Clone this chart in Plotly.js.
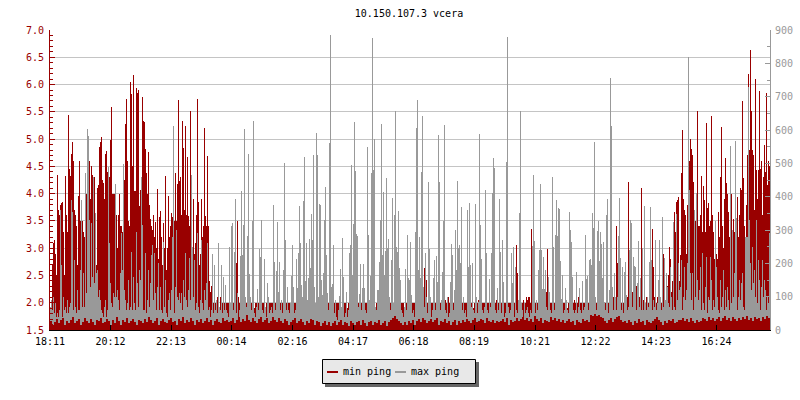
<!DOCTYPE html>
<html><head><meta charset="utf-8">
<script src="https://cdn.plot.ly/plotly-3.0.1.min.js"></script>
<style>html,body{margin:0;padding:0;background:#fff}#c{width:800px;height:400px}</style>
</head><body><div id="c"></div>
<script>
const tickMinutes=[0,121,242,363,485,606,727,848,970,1091,1212,1333];
const tickLabels=["18:11","20:12","22:13","00:14","02:16","04:17","06:18","08:19","10:21","12:22","14:23","16:24"];
const minPing=[
1.9,2.0,2.7,3.1,3.15,2.9,2.5,4.35,3.7,3.6,
3.8,3.82,3.85,3.3,2.5,4.32,3.6,3.3,5.44,4.45,
4.32,4.73,4.95,4.6,3.7,3.6,3.4,2.7,3.95,4.6,
3.5,3.4,3.5,3.3,3.2,3.95,4.0,3.6,3.5,4.59,
3.9,4.5,4.35,4.3,4.3,3.5,2.7,4.1,4.15,4.85,
4.95,5.03,4.25,4.2,3.9,4.73,4.79,4.4,3.9,4.3,
4.98,5.58,4.0,4.0,4.0,3.6,3.6,3.0,3.6,4.0,
3.4,3.4,3.3,3.6,4.25,5.28,5.73,4.6,3.5,3.4,
6.05,5.83,4.5,6.18,4.05,4.05,5.93,5.84,5.9,3.77,
4.07,4.05,5.78,5.34,5.32,4.81,4.38,4.0,4.77,3.79,
3.53,3.4,3.33,3.6,3.2,3.48,3.0,4.08,2.8,3.58,
3.69,3.2,2.7,3.46,3.0,4.33,2.6,3.0,3.95,3.2,
3.4,3.64,3.58,3.4,3.5,4.37,3.5,4.18,5.72,4.24,
4.3,3.6,5.33,4.83,3.7,5.24,3.6,4.68,3.59,3.4,
5.52,3.4,3.0,3.9,2.9,3.1,3.6,5.74,3.85,2.7,
2.9,3.9,3.2,3.4,5.2,3.59,3.4,4.69,3.4,2.4,
2.2,2.3,2.0,2.0,2.0,2.0,2.0,2.1,2.0,1.9,
2.1,2.0,2.0,2.0,2.0,1.9,2.0,2.0,2.0,2.0,
2.0,2.0,2.0,2.0,2.0,2.0,2.72,3.49,2.1,2.0,
2.0,2.0,1.9,2.0,2.0,2.0,2.0,1.9,2.0,2.0,
2.0,2.0,2.0,2.0,1.9,2.0,2.0,2.0,2.0,2.0,
1.9,2.0,2.0,2.0,2.0,1.9,2.0,2.0,2.0,2.0,
2.0,2.0,2.0,2.0,1.9,2.0,2.0,2.0,2.0,2.0,
2.0,2.0,2.0,2.0,2.0,1.9,2.0,2.0,2.0,2.0,
2.0,2.0,2.0,1.9,2.0,2.0,2.0,2.0,2.0,1.9,
2.0,2.0,2.0,2.0,2.0,1.9,2.0,2.0,2.0,2.0,
2.0,1.9,2.0,2.0,2.0,2.0,2.0,2.0,1.9,2.0,
2.0,2.0,2.0,2.0,2.0,2.0,1.9,2.0,2.0,2.0,
2.0,2.0,2.0,2.0,2.0,1.9,2.0,2.0,2.0,2.0,
2.0,1.9,2.0,2.0,2.0,2.0,2.0,1.9,2.0,2.0,
2.0,2.0,2.0,2.0,1.9,2.0,2.0,2.0,2.0,2.0,
1.9,2.0,2.0,2.0,2.0,2.0,2.0,2.0,1.9,2.0,
2.0,2.0,2.0,2.0,2.0,1.9,2.0,2.0,2.0,2.0,
2.0,2.0,1.9,2.0,2.0,2.0,2.0,2.0,2.0,2.0,
2.0,2.0,2.0,1.9,2.0,2.0,2.0,2.0,2.0,2.0,
2.0,2.0,2.0,2.0,1.9,2.0,2.0,2.0,2.0,2.0,
2.0,2.0,2.0,2.0,2.0,1.9,2.0,2.0,2.0,2.0,
2.0,2.0,2.0,2.29,2.63,2.0,2.42,2.0,2.05,2.1,
2.1,2.0,2.0,2.0,1.9,2.0,2.0,2.0,2.0,2.0,
2.0,2.0,2.0,2.0,2.0,2.05,2.0,2.1,2.1,2.0,
2.0,2.0,1.9,2.0,2.0,2.0,2.0,2.0,2.0,2.0,
2.0,2.0,2.0,2.0,2.0,2.0,2.0,1.9,2.0,2.0,
2.0,2.0,2.0,1.9,2.0,2.0,2.0,2.0,2.05,2.0,
2.0,2.0,2.0,2.0,2.0,2.05,2.1,2.0,2.0,1.9,
2.0,2.0,2.0,2.0,2.0,2.0,2.05,2.0,2.0,2.0,
2.0,2.0,1.9,2.0,2.0,2.0,2.0,2.0,2.0,2.0,
2.0,2.0,2.0,2.05,2.0,2.0,3.06,2.55,2.0,2.0,
2.0,2.0,2.0,2.05,2.0,2.0,2.1,2.05,2.1,2.1,
2.0,3.35,3.03,2.0,2.0,2.0,2.0,2.0,2.0,2.0,
2.1,2.05,2.1,2.0,2.1,2.05,2.2,2.98,2.48,2.2,
2.0,2.0,1.9,2.0,2.0,2.0,2.0,2.0,2.0,2.05,
2.1,2.05,2.0,2.0,2.0,2.0,2.0,1.9,2.0,2.0,
2.0,2.0,2.0,2.0,2.05,2.0,2.1,2.0,2.1,2.0,
2.0,2.0,2.0,2.0,2.0,2.0,2.0,2.0,2.0,2.1,
2.0,2.0,2.1,2.1,2.2,2.0,2.0,2.0,2.0,2.1,
2.0,2.1,2.0,2.0,2.0,2.0,2.1,2.0,2.0,2.0,
2.0,2.0,2.1,2.1,2.0,2.0,3.41,2.72,2.0,2.0,
2.0,2.0,2.1,2.0,2.0,2.0,2.0,2.1,4.21,2.97,
2.0,2.0,2.2,2.0,2.1,2.0,2.3,2.0,2.0,2.1,
2.1,4.1,2.97,2.05,2.0,2.0,2.1,2.0,2.0,2.1,
2.0,2.1,3.35,2.65,2.1,2.0,2.0,2.1,2.2,2.1,
2.1,2.0,2.1,2.9,2.2,2.0,2.1,2.3,2.5,3.03,
2.8,2.2,2.4,2.6,3.67,3.3,3.85,3.88,3.93,2.4,
2.87,4.37,5.17,3.9,3.7,3.6,2.9,3.8,3.5,4.59,
5.01,4.81,4.7,4.22,3.4,3.5,3.94,5.52,3.4,3.4,
3.6,4.32,3.3,4.14,3.88,3.3,5.29,3.73,3.82,3.4,
3.5,5.42,3.6,3.3,2.8,3.0,2.9,2.8,3.66,3.2,
4.3,5.22,3.4,3.0,3.9,4.65,4.2,4.0,3.67,3.2,
3.1,4.0,3.0,3.53,3.3,2.9,3.4,3.94,3.2,3.6,
4.1,4.07,5.7,4.28,3.4,3.2,3.8,4.7,6.2,4.8,
6.63,5.52,4.8,4.7,3.7,6.1,4.43,3.9,4.43,5.89,
4.46,4.6,3.6,4.31,4.9,4.4,5.85,4.16,4.6,4.5
];
const maxPing=[
70,90,60,100,50,80,40,50,40,60,
360,195,40,100,60,70,50,90,50,70,
80,390,355,60,210,70,50,120,60,60,
180,390,70,170,70,470,110,604,582,330,
130,320,160,460,140,350,170,180,100,120,
90,60,50,40,70,90,40,60,488,260,
140,80,70,110,100,438,100,120,90,60,
170,290,180,498,120,90,60,80,150,60,
70,235,60,160,80,60,295,140,70,180,
150,460,315,60,60,230,50,90,180,70,
140,225,255,90,230,110,60,130,200,60,
130,60,50,265,70,150,50,40,90,110,
60,120,280,612,50,130,300,100,90,110,
80,110,60,150,100,230,90,70,120,215,
90,465,250,100,210,60,80,290,70,50,
90,270,80,60,120,90,140,260,60,70,
40,60,228,50,195,60,90,50,260,70,
60,195,50,160,60,135,60,50,40,248,
80,312,320,60,235,393,50,110,40,60,
222,417,225,315,603,100,70,282,528,168,
100,60,327,628,50,40,70,122,60,243,
220,330,60,50,213,70,40,140,100,50,
60,70,50,375,204,60,176,324,115,205,
60,90,50,180,500,270,60,130,60,50,
80,162,255,130,50,60,213,125,230,372,
260,135,100,387,520,148,260,90,155,272,
185,348,270,525,130,80,592,525,100,378,
375,150,105,170,330,430,225,110,60,560,
885,130,137,255,50,90,40,30,60,102,
182,70,276,160,40,50,115,40,60,232,
255,495,165,318,624,478,288,282,70,108,
198,60,125,198,125,60,50,548,285,90,
162,470,876,480,572,70,60,120,120,205,
330,618,225,413,165,238,455,245,272,100,
60,210,395,80,345,657,250,235,357,185,
150,60,50,40,70,183,60,285,155,150,
264,105,50,60,40,295,605,690,180,278,
155,473,642,130,70,230,100,50,443,243,
100,40,60,155,210,60,222,145,585,443,
60,90,173,327,615,60,50,100,40,50,
144,258,224,60,120,300,180,447,245,255,
200,368,60,100,50,60,40,360,188,380,
195,70,200,60,50,378,100,50,85,588,
315,213,60,50,70,420,232,60,50,153,
70,230,410,516,486,60,50,125,60,393,
235,50,270,145,40,50,505,880,70,50,
60,230,140,250,40,190,60,50,90,350,
657,80,60,40,80,50,60,70,50,40,
60,50,252,465,268,50,90,60,180,240,
438,240,122,218,122,180,70,60,160,115,
60,50,459,250,60,285,390,282,367,362,
208,94,165,50,60,127,90,60,50,354,
300,265,160,60,50,60,174,50,70,125,
60,50,148,60,70,285,154,162,60,210,
212,195,352,305,563,100,60,297,327,207,
295,258,157,264,85,60,345,393,50,120,
756,612,130,60,170,100,60,100,282,395,
216,60,188,50,175,203,105,60,70,240,
330,320,70,220,192,188,60,142,268,70,
155,60,245,60,372,80,60,100,70,205,
370,210,60,90,70,270,60,80,150,270,
100,60,340,70,215,90,172,130,80,70,
190,100,60,325,70,60,348,90,200,120,
130,210,60,100,190,90,120,200,820,420,
170,90,170,60,360,100,410,150,90,120,
190,60,230,80,60,130,220,50,100,90,
220,150,60,90,70,327,190,100,60,50,
150,70,100,180,60,120,70,130,90,60,
552,80,300,100,170,567,335,60,100,150,
90,140,170,70,60,280,280,280,730,330,
200,120,250,140,180,100,330,80,210,150,
60,130,210,100,150,120,60,100,80,290
];
const minPingFloor=[
1.66,1.6,1.64,1.7,1.62,1.68,1.72,1.6,1.66,1.62,1.68,1.74,1.62,1.66,1.7,1.6,1.64,1.72,1.66,1.62,1.7,1.64,1.6,1.68,1.66,1.72,1.62,1.64,1.7,1.66,1.6,1.68,1.62,1.74,1.66,1.6,1.68,1.64,1.72,1.62,1.66,1.7,1.64,1.6,1.68,
1.66,1.62,1.7,1.64,1.74,1.68,1.62,1.66,1.72,1.6,1.66,1.7,1.64,1.62,1.68,1.72,1.64,1.66,1.6,1.7,1.66,1.74,1.62,1.68,1.64,1.72,1.66,1.6,1.68,1.64,1.7,1.62,1.66,1.72,1.64,1.68,1.6,1.66,1.7,1.64,1.62,1.72,1.66,1.68,1.64,
1.66,1.72,1.62,1.68,1.74,1.64,1.7,1.66,1.78,1.68,1.64,1.72,1.66,1.62,1.7,1.74,1.64,1.68,1.72,1.62,1.66,1.74,1.68,1.64,1.72,1.66,1.62,1.7,1.66,1.6,1.64,1.68,1.72,1.62,1.66,1.7,1.64,1.6,1.66,1.62,1.7,1.68,1.6,1.66,1.64,
1.58,1.62,1.66,1.6,1.64,1.58,1.62,1.66,1.6,1.64,1.68,1.6,1.64,1.62,1.58,1.66,1.62,1.6,1.64,1.66,1.6,1.68,1.62,1.58,1.64,1.66,1.6,1.64,1.62,1.68,1.6,1.62,1.66,1.58,1.64,1.68,1.72,1.76,1.7,1.66,1.62,1.6,1.64,1.6,1.66,
1.62,1.68,1.6,1.66,1.7,1.64,1.72,1.68,1.62,1.66,1.7,1.64,1.68,1.72,1.6,1.66,1.64,1.7,1.62,1.66,1.6,1.64,1.68,1.6,1.66,1.62,1.68,1.64,1.7,1.66,1.62,1.68,1.72,1.64,1.66,1.7,1.68,1.62,1.72,1.66,1.64,1.68,1.62,1.66,1.64,
1.66,1.7,1.64,1.72,1.6,1.68,1.64,1.66,1.72,1.66,1.7,1.74,1.68,1.72,1.66,1.7,1.64,1.76,1.7,1.66,1.72,1.62,1.68,1.66,1.64,1.74,1.68,1.72,1.66,1.7,1.64,1.68,1.62,1.66,1.7,1.64,1.66,1.6,1.68,1.64,1.62,1.7,1.66,1.68,1.64,
1.78,1.76,1.8,1.76,1.78,1.74,1.72,1.66,1.62,1.68,1.72,1.64,1.7,1.74,1.76,1.68,1.64,1.66,1.62,1.68,1.64,1.6,1.66,1.62,1.7,1.64,1.66,1.6,1.68,1.64,1.62,1.66,1.7,1.74,1.68,1.64,1.6,1.66,1.62,1.68,1.66,1.7,1.62,1.64,1.68,
1.68,1.72,1.66,1.7,1.64,1.72,1.66,1.62,1.68,1.64,1.66,1.72,1.7,1.66,1.74,1.68,1.72,1.66,1.7,1.74,1.66,1.72,1.76,1.68,1.72,1.66,1.74,1.7,1.66,1.72,1.68,1.74,1.7,1.76,1.68,1.72,1.66,1.74,1.7,1.72,1.66,1.74,1.7,1.76,1.72
];

const samples=a=>a.map((_,i)=>2*i+1);
const RED='#990000',GREY='#999999',FONT='"DejaVu Sans Mono",monospace';
const px=v=>(v-50)/720, py=v=>(330-v)/300;
const rect=(x0,y0,x1,y1,fill,line)=>({type:'rect',xref:'paper',yref:'paper',x0:px(x0),x1:px(x1),y0:py(y0),y1:py(y1),fillcolor:fill,line:line?{color:line,width:1}:{width:0},layer:'above'});
const lbl=(x,t)=>({xref:'paper',yref:'paper',x:px(x),y:py(371),text:t,showarrow:false,xanchor:'left',yanchor:'middle',font:{family:FONT,size:10,color:'#000'}});

Plotly.newPlot('c',[
 {type:'bar',name:'min ping',x:samples(minPing),y:minPing,yaxis:'y',width:2,marker:{color:RED,line:{width:0}}},
 {type:'bar',name:'max ping',x:samples(maxPing),y:maxPing,yaxis:'y2',width:2,marker:{color:GREY,line:{width:0}}},
 {type:'bar',name:'min ping floor',x:minPingFloor.map((_,i)=>4*i+2),y:minPingFloor,yaxis:'y3',width:4,marker:{color:RED,line:{width:0}},showlegend:false}
],{
 width:800,height:400,paper_bgcolor:'#fff',plot_bgcolor:'#fff',showlegend:false,
 margin:{l:50,r:30,t:30,b:70,pad:0},barmode:'overlay',bargap:0,
 font:{family:FONT,size:10,color:'#000'},
 title:{text:'10.150.107.3 vcera',x:409/800,xanchor:'center',y:1-13/400,yanchor:'middle',font:{family:FONT,size:10,color:'#000'}},
 xaxis:{range:[0,1440],tickmode:'array',tickvals:tickMinutes,ticktext:tickLabels,ticks:'inside',ticklen:5,tickcolor:'#000',tickwidth:1,showgrid:false,showline:true,linecolor:'#000',linewidth:1,zeroline:false,tickangle:0,ticklabelstandoff:2,tickfont:{family:FONT,size:10,color:'#000'}},
 yaxis:{range:[1.5,7],tick0:1.5,dtick:0.5,tickformat:'.1f',ticks:'inside',ticklen:5,tickcolor:RED,showline:true,linecolor:RED,linewidth:1,gridcolor:'#c4c4c4',gridwidth:1,zeroline:false,ticklabelstandoff:3,tickfont:{family:FONT,size:10,color:RED},minor:{dtick:0.1,tick0:1.5,ticks:'inside',ticklen:3,tickcolor:RED,showgrid:false}},
 yaxis2:{overlaying:'y',side:'right',range:[0,900],tick0:0,dtick:100,ticks:'inside',ticklen:5,tickcolor:GREY,showline:true,linecolor:GREY,linewidth:1,showgrid:false,zeroline:false,ticklabelstandoff:2,tickfont:{family:FONT,size:10,color:GREY},minor:{dtick:50,ticks:'inside',ticklen:3,tickcolor:GREY,showgrid:false}},
 yaxis3:{overlaying:'y',range:[1.5,7],visible:false},
 shapes:[
  rect(325,362,479,387,'#666666'),
  rect(322.5,359.5,475.5,383.5,'#e8e8e8','#000000'),
  rect(327,371,338,373,RED),
  rect(395,371,406,373,GREY)
 ],
 annotations:[lbl(341,'min ping'),lbl(409,'max ping')]
},{staticPlot:true,displayModeBar:false});
</script></body></html>
